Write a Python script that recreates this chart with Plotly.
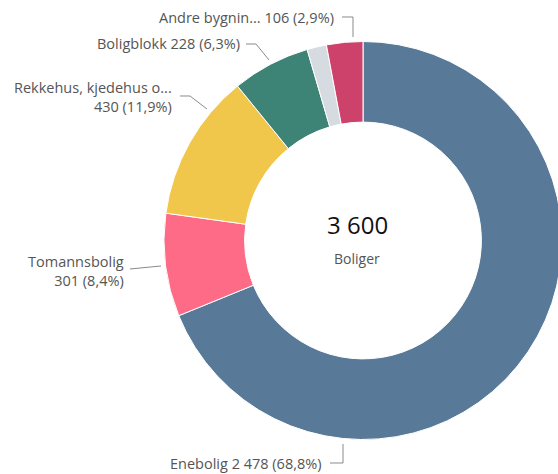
import plotly.graph_objects as go

# ---- data ----
categories = ["Enebolig", "Tomannsbolig", "Rekkehus, kjedehus o...", "Boligblokk",
              "Bygning for bofellesskap", "Andre bygnin..."]
values = [2478, 301, 430, 228, 57, 106]
total_label = "3 600"
center_label = "Boliger"

colors = ["#587a98", "#fd6b86", "#f0c64b", "#3e8476", "#d6dbe1", "#cd426a"]

# figure is wider than the window; the page clips it on the right like the reference
W, H = 600, 474


def fmt(v):
    return f"{v:,}".replace(",", " ")


total = sum(values)


def pct(v):
    return f"{v / total * 100:.1f}".replace(".", ",") + "%"


def lab(i):
    return f"{categories[i]} {fmt(values[i])} ({pct(values[i])})"


def P(x, y):
    """window pixel -> paper coords"""
    return x / W, 1 - y / H


# pie placement (window pixels)
CX, CY, R = 363, 240.5, 199
x0, _ = P(CX - R, 0)
x1, _ = P(CX + R, 0)
_, y0 = P(0, CY + R)
_, y1 = P(0, CY - R)

fig = go.Figure()
fig.add_trace(go.Pie(
    labels=categories,
    values=values,
    hole=0.595,
    sort=False,
    direction="clockwise",
    rotation=0,
    marker=dict(colors=colors, line=dict(color="white", width=1)),
    textinfo="none",
    hoverinfo="label+value+percent",
    showlegend=False,
    domain=dict(x=[x0, x1], y=[y0, y1]),
))

label_color = "#555555"
font_family = "Open Sans, Noto Sans, sans-serif"

# label layout (window pixel positions): (text, x_right, y_center, leader path points)
label_layout = [
    (lab(5), 336, 17, [(342, 17), (353, 17), (353, 37)]),
    (lab(3), 242, 44, [(246, 44), (256, 44), (269, 60)]),
    (f"{categories[2]}<br>{fmt(values[2])} ({pct(values[2])})", 174, 97,
     [(180, 96), (190, 96), (207, 109)]),
    (f"{categories[1]}<br>{fmt(values[1])} ({pct(values[1])})", 126, 271,
     [(130, 269), (161, 266)]),
    (lab(0), 324, 463, [(330, 463), (343, 463), (343, 444)]),
]

annotations = []
shapes = []
for text, xr, yc, pts in label_layout:
    ax, ay = P(xr, yc)
    annotations.append(dict(
        x=ax, y=ay, xref="paper", yref="paper", text=text, showarrow=False,
        xanchor="right", yanchor="middle", align="right",
        font=dict(family=font_family, size=14.5, color=label_color),
    ))
    path = ""
    for k, (px, py) in enumerate(pts):
        qx, qy = P(px, py)
        path += ("M" if k == 0 else " L") + f" {qx:.5f},{qy:.5f}"
    shapes.append(dict(type="path", xref="paper", yref="paper", path=path,
                       line=dict(color="#8a8a8a", width=1)))

cx, cy = P(357, 224)
annotations.append(dict(x=cx, y=cy, xref="paper", yref="paper", text=total_label,
                        showarrow=False, xanchor="center", yanchor="middle",
                        font=dict(family=font_family, size=24, color="#111111")))
bx, by = P(357, 258)
annotations.append(dict(x=bx, y=by, xref="paper", yref="paper", text=center_label,
                        showarrow=False, xanchor="center", yanchor="middle",
                        font=dict(family=font_family, size=14, color=label_color)))

fig.update_layout(
    width=W, height=H,
    margin=dict(l=0, r=0, t=0, b=0),
    paper_bgcolor="white", plot_bgcolor="white",
    annotations=annotations, shapes=shapes,
    font=dict(family=font_family),
)

post = ("document.body.style.margin='0';"
        "document.body.style.overflow='hidden';"
        "document.documentElement.style.overflow='hidden';")
fig.write_html("out.html", config={"displayModeBar": False}, post_script=post)
